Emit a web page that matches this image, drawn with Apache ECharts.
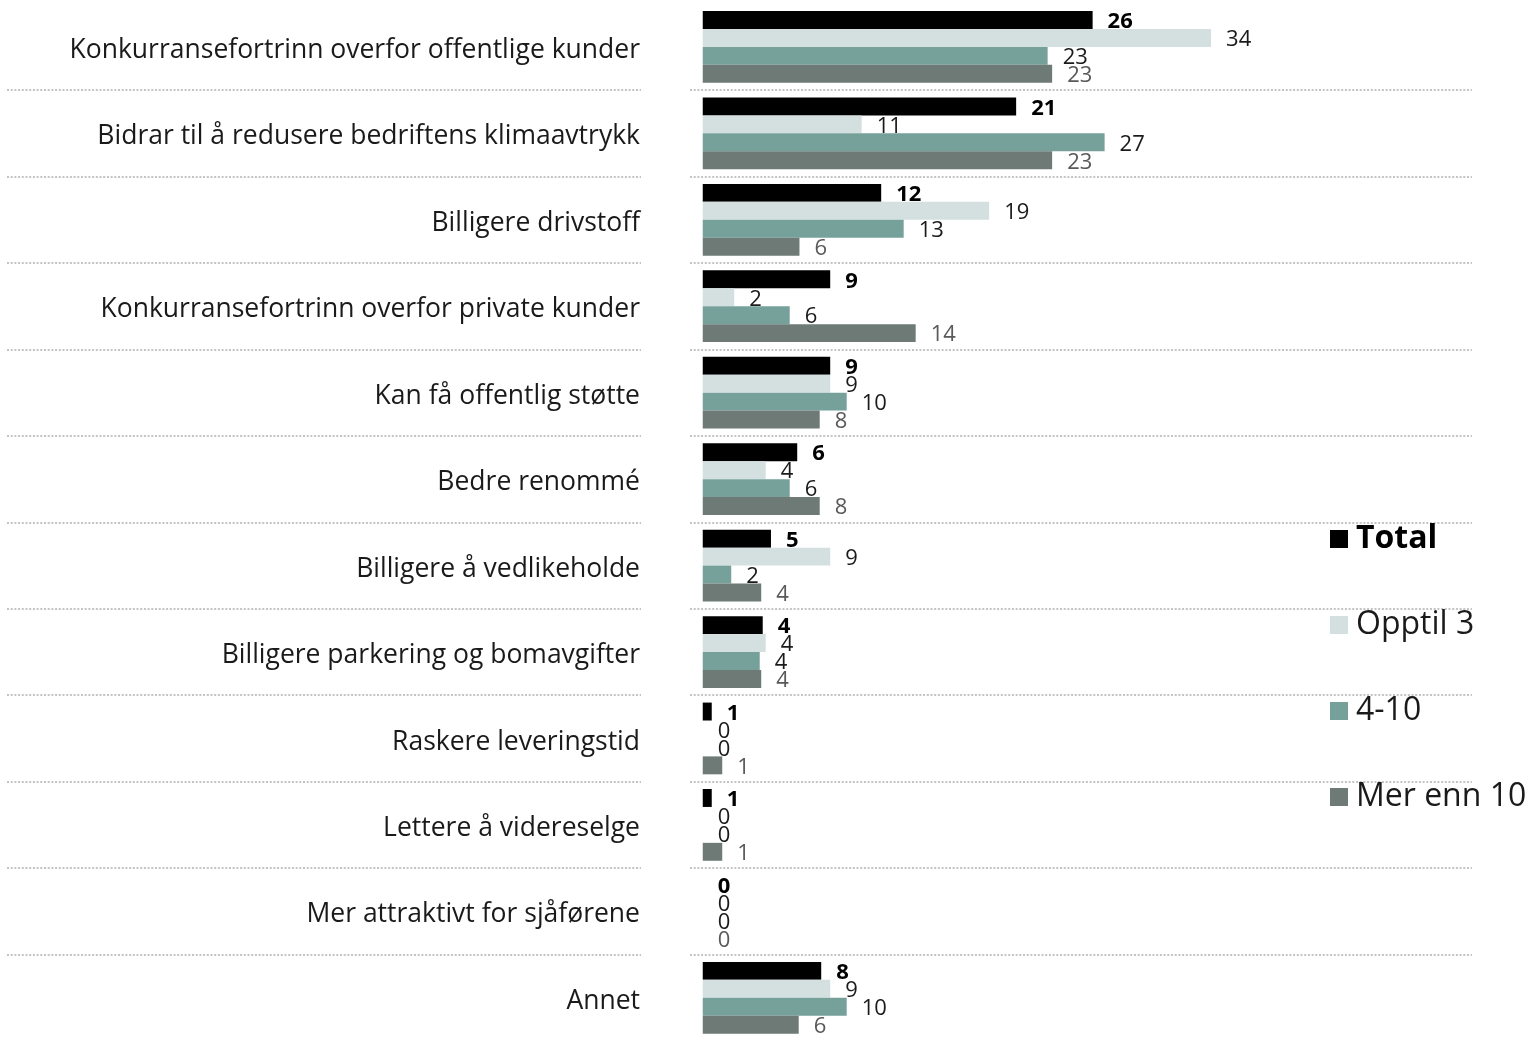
<!DOCTYPE html>
<html>
<head>
<meta charset="utf-8">
<script src="https://cdn.jsdelivr.net/npm/echarts@6/dist/echarts.min.js"></script>
<style>
html,body{margin:0;padding:0;background:#fff;}
#chart{width:1533px;height:1041px;}
</style>
</head>
<body>
<div id="chart"></div>
<script>
const categories = [
  "Konkurransefortrinn overfor offentlige kunder",
  "Bidrar til å redusere bedriftens klimaavtrykk",
  "Billigere drivstoff",
  "Konkurransefortrinn overfor private kunder",
  "Kan få offentlig støtte",
  "Bedre renommé",
  "Billigere å vedlikeholde",
  "Billigere parkering og bomavgifter",
  "Raskere leveringstid",
  "Lettere å videreselge",
  "Mer attraktivt for sjåførene",
  "Annet"
];
const seriesNames = ["Total", "Opptil 3", "4-10", "Mer enn 10"];
const total     = [26.0, 20.9, 11.9, 8.5, 8.5, 6.3, 4.55, 4.0, 0.6, 0.6, 0, 7.9];
const opptil3   = [33.9, 10.6, 19.1, 2.1, 8.5, 4.2, 8.5, 4.2, 0, 0, 0, 8.5];
const fra4til10 = [23.0, 26.8, 13.4, 5.8, 9.6, 5.8, 1.9, 3.8, 0, 0, 0, 9.6];
const merEnn10  = [23.3, 23.3, 6.45, 14.2, 7.8, 7.8, 3.9, 3.9, 1.3, 1.3, 0, 6.4];

const colors = ["#000000", "#d4e0e0", "#76a19b", "#6e7a76"];
const labelColors = ["#000000", "#1a1a1a", "#1a1a1a", "#595959"];
const FONT = "'Open Sans', 'DejaVu Sans', sans-serif";

const dotted = { color: "#c4c4c4", width: 2, type: [2, 1.7] };
const GTOP = 3.7, GH = 1040;

const chart = echarts.init(document.getElementById('chart'), null, {renderer: 'canvas'});

function makeSeries(name, data, idx) {
  return {
    name: name,
    type: 'bar',
    xAxisIndex: 0,
    yAxisIndex: 0,
    data: data,
    barGap: '0%',
    barCategoryGap: '17%',
    itemStyle: { color: colors[idx] },
    label: {
      show: true,
      position: 'right',
      distance: 15,
      offset: [0, 2],
      fontFamily: FONT,
      fontSize: 22,
      fontWeight: idx === 0 ? 'bold' : 'normal',
      color: labelColors[idx],
      formatter: p => String(Math.round(p.value))
    }
  };
}

const option = {
  animation: false,
  backgroundColor: '#ffffff',
  textStyle: { fontFamily: FONT },
  legend: {
    orient: 'vertical',
    left: 1325,
    top: 518,
    itemWidth: 18,
    itemHeight: 18,
    itemGap: 54,
    icon: 'rect',
    textStyle: { fontFamily: FONT, fontSize: 32, color: '#1a1a1a', lineHeight: 30, padding: [0, 0, 0, 3] },
    data: [
      { name: seriesNames[0], textStyle: { fontWeight: 'bold', color: '#000' } },
      { name: seriesNames[1] },
      { name: seriesNames[2] },
      { name: seriesNames[3] }
    ]
  },
  grid: [
    { left: 690, width: 782, top: GTOP, height: GH, containLabel: false },
    { left: 7, width: 634, top: GTOP, height: GH, containLabel: false }
  ],
  xAxis: [
    { type: 'value', gridIndex: 0, min: -0.85, max: 51.3, show: false },
    { type: 'value', gridIndex: 1, min: 0, max: 1, show: false }
  ],
  yAxis: [
    {
      type: 'category', gridIndex: 0, data: categories, inverse: true,
      axisLine: { show: false }, axisTick: { show: false },
      axisLabel: {
        margin: 50,
        formatter: v => '{c|' + v + '}',
        rich: { c: { fontFamily: FONT, fontSize: 26.5, color: '#1a1a1a', padding: [7, 0, 0, 0] } }
      },
      splitLine: { show: true, showMinLine: false, showMaxLine: false, lineStyle: dotted }
    },
    {
      type: 'category', gridIndex: 1, data: categories, inverse: true,
      axisLine: { show: false }, axisTick: { show: false },
      axisLabel: { show: false },
      splitLine: { show: true, showMinLine: false, showMaxLine: false, lineStyle: dotted }
    }
  ],
  series: [
    makeSeries(seriesNames[0], total, 0),
    makeSeries(seriesNames[1], opptil3, 1),
    makeSeries(seriesNames[2], fra4til10, 2),
    makeSeries(seriesNames[3], merEnn10, 3)
  ]
};
chart.setOption(option);
</script>
</body>
</html>
